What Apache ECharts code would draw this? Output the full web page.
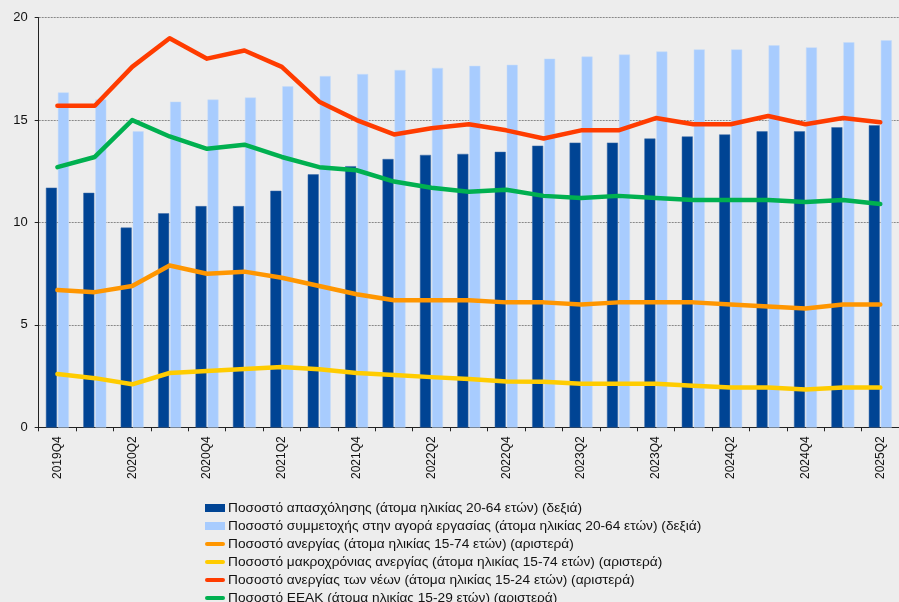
<!DOCTYPE html>
<html>
<head>
<meta charset="utf-8">
<script src="https://cdn.jsdelivr.net/npm/echarts@6/dist/echarts.min.js"></script>
<style>
  html, body { margin: 0; padding: 0; background: #ededed; }
  #main { width: 899px; height: 602px; }
</style>
</head>
<body>
<div id="main"></div>
<script>
// quarters
var quarters = ['2019Q4', '2020Q1', '2020Q2', '2020Q3', '2020Q4', '2021Q1', '2021Q2', '2021Q3', '2021Q4',
  '2022Q1', '2022Q2', '2022Q3', '2022Q4', '2023Q1', '2023Q2', '2023Q3', '2023Q4',
  '2024Q1', '2024Q2', '2024Q3', '2024Q4', '2025Q1', '2025Q2'];

// right axis (hidden) - bars
var employment = [63.4, 62.9, 59.5, 60.9, 61.6, 61.6, 63.1, 64.7, 65.5, 66.2, 66.6, 66.7, 66.9,
  67.5, 67.8, 67.8, 68.2, 68.4, 68.6, 68.9, 68.9, 69.3, 69.5];
var participation = [72.7, 72.0, 68.9, 71.8, 72.0, 72.2, 73.3, 74.3, 74.5, 74.9, 75.1, 75.3, 75.4,
  76.0, 76.2, 76.4, 76.7, 76.9, 76.9, 77.3, 77.1, 77.6, 77.8];

// left axis - lines
var unemployment = [6.7, 6.6, 6.9, 7.9, 7.5, 7.6, 7.3, 6.9, 6.5, 6.2, 6.2, 6.2, 6.1,
  6.1, 6.0, 6.1, 6.1, 6.1, 6.0, 5.9, 5.8, 6.0, 6.0];
var longTerm = [2.6, 2.4, 2.1, 2.65, 2.75, 2.85, 2.95, 2.83, 2.65, 2.55, 2.45, 2.36, 2.24,
  2.22, 2.13, 2.13, 2.13, 2.03, 1.94, 1.94, 1.84, 1.94, 1.94];
var youth = [15.7, 15.7, 17.6, 19.0, 18.0, 18.4, 17.6, 15.9, 15.0, 14.3, 14.6, 14.8, 14.5,
  14.1, 14.5, 14.5, 15.1, 14.8, 14.8, 15.2, 14.8, 15.1, 14.9];
var neet = [12.7, 13.2, 15.0, 14.2, 13.6, 13.8, 13.2, 12.7, 12.55, 12.0, 11.7, 11.5, 11.6,
  11.3, 11.2, 11.3, 11.2, 11.1, 11.1, 11.1, 11.0, 11.1, 10.9];

var names = [
  'Ποσοστό απασχόλησης (άτομα ηλικίας 20-64 ετών) (δεξιά)',
  'Ποσοστό συμμετοχής στην αγορά εργασίας (άτομα ηλικίας 20-64 ετών) (δεξιά)',
  'Ποσοστό ανεργίας (άτομα ηλικίας 15-74 ετών) (αριστερά)',
  'Ποσοστό μακροχρόνιας ανεργίας (άτομα ηλικίας 15-74 ετών) (αριστερά)',
  'Ποσοστό ανεργίας των νέων (άτομα ηλικίας 15-24 ετών) (αριστερά)',
  'Ποσοστό ΕΕΑΚ (άτομα ηλικίας 15-29 ετών) (αριστερά)'
];

var lineIcon = 'path://M2,0 L18,0 A2,2 0 0 1 18,4 L2,4 A2,2 0 0 1 2,0 Z';
var font = 'Liberation Sans';

var myChart = echarts.init(document.getElementById('main'));

function lineSeries(name, data, color) {
  return {
    name: name,
    type: 'line',
    yAxisIndex: 0,
    data: data,
    symbol: 'none',
    lineStyle: { color: color, width: 4.5, cap: 'round', join: 'round' },
    itemStyle: { color: color },
    z: 3
  };
}

var option = {
  backgroundColor: '#ededed',
  animation: false,
  textStyle: { fontFamily: font },
  grid: { left: 38.7, right: -14, top: 17.7, bottom: 174.7 },
  legend: {
    orient: 'vertical',
    left: 205,
    top: 501,
    height: 130,
    padding: 0,
    itemWidth: 20,
    itemHeight: 8,
    itemGap: 4,
    textStyle: { fontFamily: font, fontSize: 13.7, color: '#111', padding: [0, 0, 0, -2] },
    data: [
      { name: names[0], icon: 'rect', itemStyle: { borderWidth: 0 } },
      { name: names[1], icon: 'rect', itemStyle: { borderWidth: 0 } },
      { name: names[2], icon: lineIcon },
      { name: names[3], icon: lineIcon },
      { name: names[4], icon: lineIcon },
      { name: names[5], icon: lineIcon }
    ]
  },
  xAxis: {
    type: 'category',
    data: quarters,
    boundaryGap: true,
    axisLine: { lineStyle: { color: '#222', width: 1 } },
    axisTick: { show: true, interval: 0, length: 4, lineStyle: { color: '#222' } },
    axisLabel: { interval: 1, rotate: 90, fontSize: 12, color: '#111', margin: 9, fontFamily: font },
    splitLine: { show: false }
  },
  yAxis: [{
    type: 'value',
    min: 0,
    max: 20,
    interval: 5,
    axisLine: { show: true, lineStyle: { color: '#222', width: 1 } },
    axisTick: { show: true, length: 4, lineStyle: { color: '#222' } },
    axisLabel: { fontSize: 13, color: '#111', margin: 11, fontFamily: font },
    splitLine: { show: true, lineStyle: { color: '#888', type: [2, 1], width: 1 } }
  }, {
    type: 'value',
    min: 40,
    max: 80,
    interval: 10,
    show: false,
    splitLine: { show: false }
  }],
  series: [
    {
      name: names[0], type: 'bar', yAxisIndex: 1, data: employment,
      barWidth: 11, barGap: '9%',
      itemStyle: { color: '#004494', borderColor: '#3a6aa8', borderWidth: 0.5 }, z: 2
    },
    {
      name: names[1], type: 'bar', yAxisIndex: 1, data: participation,
      barWidth: 11,
      itemStyle: { color: '#a8ccfe', borderColor: '#c6dcf8', borderWidth: 0.5 }, z: 2
    },
    lineSeries(names[2], unemployment, '#ff9600'),
    lineSeries(names[3], longTerm, '#ffcc00'),
    lineSeries(names[4], youth, '#ff3c00'),
    lineSeries(names[5], neet, '#00b050')
  ]
};

myChart.setOption(option);
</script>
</body>
</html>
